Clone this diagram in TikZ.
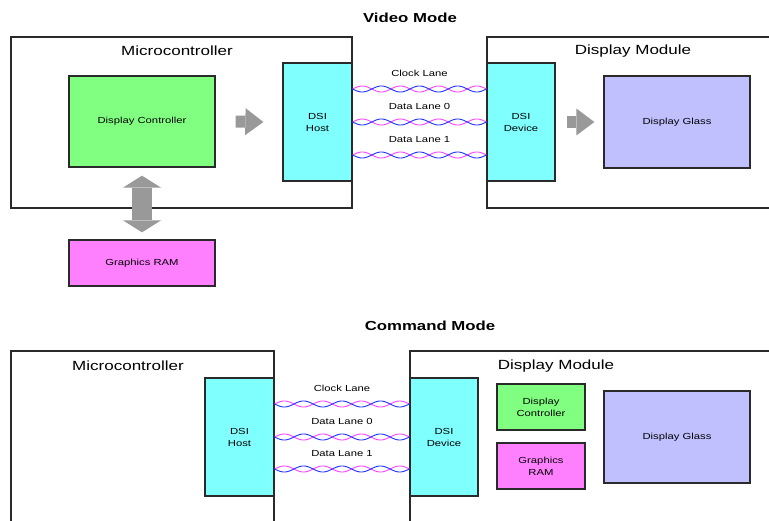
\documentclass[tikz,border=0pt]{standalone}
\usepackage{fontspec}
\setmainfont{Liberation Sans}[FakeStretch=1.28]
\usetikzlibrary{arrows.meta,calc}
\definecolor{dcgreen}{HTML}{80FF80}
\definecolor{dsicyan}{HTML}{80FFFF}
\definecolor{rammag}{HTML}{FF80FF}
\definecolor{glassblue}{HTML}{C0C0FF}
\definecolor{arrgray}{HTML}{999999}
\definecolor{wirepink}{HTML}{FF44FF}
\definecolor{wireblue}{HTML}{2233FF}
\definecolor{edgec}{HTML}{2A2A2A}
\newcommand\twistlane[2]{%
  \draw[wirepink, line width=0.9pt] let \p1=(#1), \p2=(#2) in
    plot[variable=\t, domain=0:1, samples=141, smooth]
    ({\x1+(\x2-\x1)*\t}, {\y1+3*sin(7*180*\t)});
  \draw[wireblue, line width=0.9pt] let \p1=(#1), \p2=(#2) in
    plot[variable=\t, domain=0:1, samples=141, smooth]
    ({\x1+(\x2-\x1)*\t}, {\y1-3*sin(7*180*\t)});
}
\begin{document}
\begin{tikzpicture}[x=1pt,y=-1pt,
  box/.style={draw=edgec, line width=1.3pt, inner sep=0pt, align=center,
    font=\fontsize{8.8}{12}\selectfont},
  outer/.style={draw=edgec, line width=1.1pt, inner sep=0pt},
  mlabel/.style={inner sep=0pt, font=\fontsize{13.3}{15}\selectfont},
  titletext/.style={inner sep=0pt, font=\bfseries\fontsize{13.1}{15}\selectfont},
  lanelabel/.style={inner sep=0pt, font=\fontsize{8.8}{10}\selectfont},
  blockarrow/.style={arrgray, line width=12pt,
    -{Triangle[length=18pt, width=27pt, line width=0pt]}},
  dblarrow/.style={arrgray, line width=20pt,
    {Triangle[length=12pt, width=38pt, line width=0pt]}-{Triangle[length=12pt, width=38pt, line width=0pt]}}
]
\clip (0,0) rectangle (769,521);
\fill[white] (0,0) rectangle (769,521);

% ---------------- Video Mode ----------------
\node[titletext] (t1) at (410,18) {Video Mode};
\node[outer, minimum width=341, minimum height=171] (mc1) at (181.5,122.5) {};
\node[mlabel] (mc1l) at (177,51) {Microcontroller};
\node[outer, minimum width=330, minimum height=171] (dm1) at (652,122.5) {};
\node[mlabel] (dm1l) at (633,51) {Display Module};

\node[box, fill=dcgreen, minimum width=146, minimum height=91] (dc1) at (142,121.5) {Display Controller};
\node[box, fill=rammag, minimum width=146, minimum height=46] (r1) at (142,263) {Graphics RAM};
\node[box, fill=dsicyan, minimum width=69, minimum height=118] (h1) at (317.5,122) {DSI\\Host};
\node[box, fill=dsicyan, minimum width=68, minimum height=118] (d1) at (521,122) {DSI\\Device};
\node[box, fill=glassblue, minimum width=146, minimum height=92] (g1) at (677,122) {Display Glass};

\coordinate (h1c) at ($(h1.east)+(0,-33)$);
\coordinate (d1c) at ($(d1.west)+(0,-33)$);
\coordinate (h1a) at (h1.east);
\coordinate (d1a) at (d1.west);
\coordinate (h1b) at ($(h1.east)+(0,33)$);
\coordinate (d1b) at ($(d1.west)+(0,33)$);
\twistlane{h1c}{d1c}
\twistlane{h1a}{d1a}
\twistlane{h1b}{d1b}
\node[lanelabel] (cl1) at ($(h1c)!0.5!(d1c)+(0,-15.5)$) {Clock Lane};
\node[lanelabel] (dl01) at ($(h1a)!0.5!(d1a)+(0,-15.5)$) {Data Lane 0};
\node[lanelabel] (dl11) at ($(h1b)!0.5!(d1b)+(0,-15.5)$) {Data Lane 1};

\draw[blockarrow] ($(dc1.east)+(20,0)$) -- ($(h1.west)+(-19,0)$);
\draw[blockarrow] ($(d1.east)+(11,0)$) -- ($(g1.west)+(-9,0)$);
\draw[dblarrow] ($(dc1.south)+(0,8)$) -- ($(r1.north)+(0,-7)$);

% ---------------- Command Mode ----------------
\node[titletext] (t2) at (430,326) {Command Mode};
\node[outer, minimum width=263, minimum height=209] (mc2) at (142.5,455.5) {};
\node[mlabel] (mc2l) at (128,366) {Microcontroller};
\node[outer, minimum width=400, minimum height=209] (dm2) at (610,455.5) {};
\node[mlabel] (dm2l) at (556,366) {Display Module};

\node[box, fill=dsicyan, minimum width=69, minimum height=118] (h2) at (239.5,437) {DSI\\Host};
\node[box, fill=dsicyan, minimum width=68, minimum height=118] (d2) at (444,437) {DSI\\Device};
\node[box, fill=dcgreen, minimum width=88, minimum height=46] (dc2) at (541,407) {Display\\Controller};
\node[box, fill=rammag, minimum width=88, minimum height=46] (r2) at (541,466) {Graphics\\RAM};
\node[box, fill=glassblue, minimum width=146, minimum height=92] (g2) at (677,437) {Display Glass};

\coordinate (h2c) at ($(h2.east)+(0,-33)$);
\coordinate (d2c) at ($(d2.west)+(0,-33)$);
\coordinate (h2a) at (h2.east);
\coordinate (d2a) at (d2.west);
\coordinate (h2b) at ($(h2.east)+(0,32)$);
\coordinate (d2b) at ($(d2.west)+(0,32)$);
\twistlane{h2c}{d2c}
\twistlane{h2a}{d2a}
\twistlane{h2b}{d2b}
\node[lanelabel] (cl2) at ($(h2c)!0.5!(d2c)+(0,-15.5)$) {Clock Lane};
\node[lanelabel] (dl02) at ($(h2a)!0.5!(d2a)+(0,-15.5)$) {Data Lane 0};
\node[lanelabel] (dl12) at ($(h2b)!0.5!(d2b)+(0,-15.5)$) {Data Lane 1};
\end{tikzpicture}
\end{document}
